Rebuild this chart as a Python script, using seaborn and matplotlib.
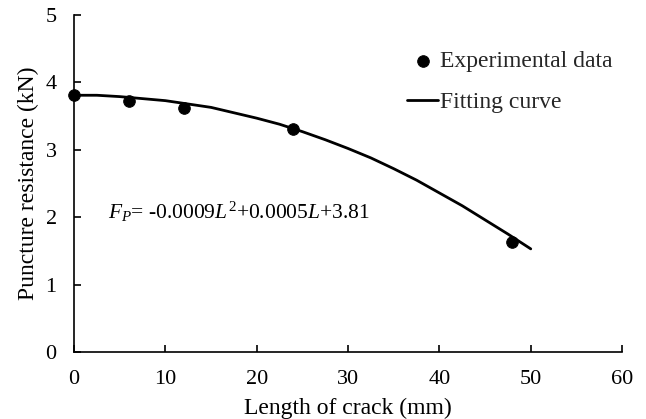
import matplotlib
matplotlib.use("Agg")
import matplotlib.pyplot as plt
import seaborn as sns
import pandas as pd

# Data
crack_length = [0, 6, 12, 24, 48]
puncture_resistance = [3.81, 3.72, 3.62, 3.31, 1.63]
curve_length = [0, 2.5, 5, 7.5, 10, 12.5, 15, 17.5, 20, 22.5, 25, 27.5, 30,
                32.5, 35, 37.5, 40, 42.5, 45, 47.5, 50]
curve_resistance = [3.81, 3.81, 3.79, 3.76, 3.73, 3.68, 3.63, 3.55, 3.47, 3.38,
                    3.27, 3.15, 3.02, 2.88, 2.72, 2.55, 2.36, 2.17, 1.96, 1.75, 1.53]
x_ticks = [0, 10, 20, 30, 40, 50, 60]
y_ticks = [0, 1, 2, 3, 4, 5]

sns.set_theme(style="white")
plt.rcParams['font.family'] = ['Liberation Serif', 'DejaVu Serif']
plt.rcParams['mathtext.fontset'] = 'custom'
plt.rcParams['mathtext.rm'] = 'Liberation Serif'
plt.rcParams['mathtext.it'] = 'Liberation Serif:italic'

df_pts = pd.DataFrame({"L": crack_length, "F": puncture_resistance})
df_curve = pd.DataFrame({"L": curve_length, "F": curve_resistance})

fig = plt.figure(figsize=(6.46, 4.19), dpi=100)
ax = fig.add_axes([0.1146, 0.160, 0.8484, 0.804])

sns.lineplot(data=df_curve, x="L", y="F", ax=ax, color="black", linewidth=2.0,
             label="Fitting curve", zorder=2)
sns.scatterplot(data=df_pts, x="L", y="F", ax=ax, color="black", s=70,
                edgecolor="black", label="Experimental data", zorder=3, clip_on=False)

ax.set_xlim(0, 60)
ax.set_ylim(0, 5)
ax.set_xticks(x_ticks)
ax.set_yticks(y_ticks)
ax.tick_params(direction="in", length=5, width=1.2, labelsize=16, colors="black",
               bottom=True, left=True)
ax.tick_params(axis="x", pad=13)
ax.tick_params(axis="y", pad=12.5)
for s in ["top", "right"]:
    ax.spines[s].set_visible(False)
for s in ["left", "bottom"]:
    ax.spines[s].set_color("black")
    ax.spines[s].set_linewidth(1.2)

ax.set_xlabel("Length of crack (mm)", fontsize=17, color="black", labelpad=6)
ax.set_ylabel("Puncture resistance (kN)", fontsize=17, color="black", labelpad=5)

ax.text(3.7, 2.08, r"$F_P$= -0.0009$L^2$+0.0005$L$+3.81", fontsize=15.5,
        color="black", va="center", ha="left")

handles, labels = ax.get_legend_handles_labels()
order = [labels.index("Experimental data"), labels.index("Fitting curve")]
ax.legend([handles[i] for i in order], [labels[i] for i in order],
          loc="upper right", bbox_to_anchor=(1.022, 0.958), frameon=False,
          fontsize=17, handlelength=1.3, handletextpad=0.1, labelspacing=0.82)

fig.savefig("out.png", dpi=100)
